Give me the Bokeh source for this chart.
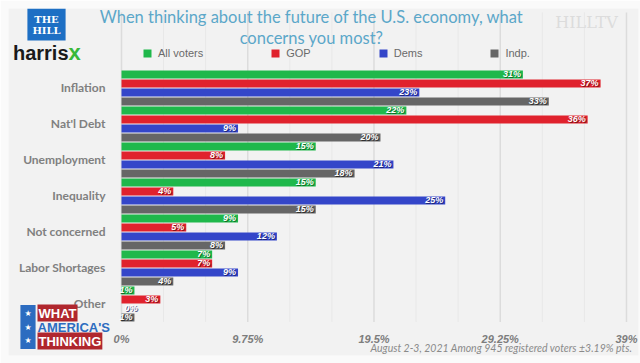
from bokeh.plotting import figure
from bokeh.models import (ColumnDataSource, Range1d, FixedTicker,
                          CustomJSTickFormatter, Legend, LegendItem, Label)
from bokeh.transform import dodge
from bokeh.core.properties import value
from bokeh.embed import file_html
from bokeh.resources import INLINE

# ---------------- data ----------------
categories = ["Inflation", "Nat'l Debt", "Unemployment", "Inequality",
              "Not concerned", "Labor Shortages", "Other"]
all_voters = [31, 22, 15, 15, 9, 7, 1]
gop = [37, 36, 8, 4, 5, 7, 3]
dems = [23, 9, 21, 25, 12, 9, 0]
indp = [33, 20, 18, 15, 8, 4, 1]
series_names = ["All voters", "GOP", "Dems", "Indp."]
series_values = [all_voters, gop, dems, indp]
series_colors = ["#1fb84b", "#e0222d", "#3446c9", "#666666"]
shadow_colors = ["#0b5a22", "#6a0d12", "#141d63", "#222222"]
x_ticks = [0, 9.75, 19.5, 29.25, 39]
title_lines = ["When thinking about the future of the U.S. economy, what",
               "concerns you most?"]
footnote = "August 2-3, 2021 Among 945 registered voters \u00b13.19% pts."

SANS = "'Liberation Sans', Arial, sans-serif"
ROUND = "Lato, 'Open Sans', sans-serif"

ypos = list(range(len(categories)))

W, H = 640, 363
# frame fills the canvas (minus a thin border); axes are pinned with fixed_location
p = figure(width=W, height=H,
           x_range=Range1d(-8.727, 39.927),
           y_range=Range1d(ypos[-1] + 1.4306, ypos[0] - 2.2083),
           output_backend="svg", toolbar_location=None,
           min_border_left=8, min_border_top=8, min_border_bottom=8,
           min_border_right=2)
p.background_fill_color = "#f2f2f2"
p.border_fill_color = "#fafafa"
p.outline_line_color = None
p.xgrid.grid_line_color = None
p.ygrid.grid_line_color = None

# grid lines (bar area only)
minor = []
for a, b in zip(x_ticks[:-1], x_ticks[1:]):
    minor += [a + (b - a) / 3, a + 2 * (b - a) / 3]
top_edge, bottom_edge = ypos[0] - 0.5, ypos[-1] + 0.5
p.segment(x0=minor, x1=minor, y0=top_edge - 1.6, y1=bottom_edge,
          line_color="#e8e8e8", line_width=1)
p.segment(x0=x_ticks, x1=x_ticks, y0=top_edge - 1.6, y1=bottom_edge,
          line_color="#dcdcdc", line_width=1.5)

# x axis
p.xaxis.fixed_location = bottom_edge
p.xaxis.ticker = FixedTicker(ticks=x_ticks)
p.xaxis.formatter = CustomJSTickFormatter(code="return tick + '%';")
p.xaxis.major_label_standoff = 5
p.xaxis.major_label_text_font = SANS
p.xaxis.major_label_text_font_style = "bold italic"
p.xaxis.major_label_text_font_size = "11px"
p.xaxis.major_label_text_color = "#7d7d7d"

# y axis (categories)
p.yaxis.fixed_location = 0
p.yaxis.ticker = FixedTicker(ticks=ypos)
p.yaxis.formatter = CustomJSTickFormatter(args=dict(cats=categories),
                                          code="return cats[Math.round(tick)] || '';")
p.yaxis.major_label_standoff = 10
p.yaxis.major_label_text_font = ROUND
p.yaxis.major_label_text_font_style = "bold"
p.yaxis.major_label_text_font_size = "12px"
p.yaxis.major_label_text_color = "#808080"

for ax in (p.xaxis, p.yaxis):
    ax.axis_line_color = None
    ax.major_tick_line_color = None
    ax.minor_tick_line_color = None

items = []
for k, (name, vals, col, shc) in enumerate(zip(series_names, series_values,
                                               series_colors, shadow_colors)):
    off = -0.375 + 0.25 * k
    src = ColumnDataSource(dict(
        pos=ypos, val=vals,
        label=[f"{v}%" for v in vals],
        align=["right" if v > 0 else "left" for v in vals],
        xo=[-2 if v > 0 else 3 for v in vals],
        xs=[-1 if v > 0 else 4 for v in vals],
    ))
    yy = dodge("pos", off)
    r = p.hbar(y=yy, left=0, right="val", height=0.225, source=src,
               fill_color=col, line_color=None)
    items.append(LegendItem(label=name, renderers=[r]))
    p.text(x="val", y=yy, text="label", source=src, text_align="align",
           x_offset="xs", y_offset=1, text_baseline="middle",
           text_color=shc, text_alpha=0.8, text_font=value(SANS),
           text_font_style="bold italic", text_font_size="9px")
    p.text(x="val", y=yy, text="label", source=src, text_align="align",
           x_offset="xo", text_baseline="middle",
           text_color="white", text_font=value(SANS),
           text_font_style="bold italic", text_font_size="9px")

legend = Legend(items=items, orientation="horizontal", location=(134, 296),
                spacing=67, glyph_width=10, glyph_height=10, label_standoff=6,
                label_height=12, padding=0, margin=0,
                background_fill_alpha=0, border_line_color=None,
                label_text_font=SANS, label_text_font_size="11px",
                label_text_color="#6a6a6a")
p.add_layout(legend)

def lab(x, y, text, **kw):
    p.add_layout(Label(x=x, y=y, x_units="screen", y_units="screen", text=text, **kw))

# title
lab(303, 338.5, title_lines[0], text_align="center", text_baseline="middle",
    text_font=ROUND, text_font_size="16.5px", text_color="#5ba7c9")
lab(303, 317.5, title_lines[1], text_align="center", text_baseline="middle",
    text_font=ROUND, text_font_size="16.5px", text_color="#5ba7c9")

# footnote
lab(624, 8, footnote, text_align="right", text_baseline="middle",
    text_font=ROUND, text_font_style="italic", text_font_size="10.5px",
    text_color="#8a8a8a")

# logos
lab(38, 331, "THE\nHILL", text_align="center", text_baseline="middle",
    text_font="'DejaVu Serif', serif", text_font_style="bold",
    text_font_size="10px", text_color="white", background_fill_color="#1d6fc4",
    padding=5, text_line_height=1.0)
lab(60, 303, "harris", text_align="right", text_baseline="middle",
    text_font=SANS, text_font_style="bold", text_font_size="20px",
    text_color="#1a1a1a")
lab(60, 303, "x", text_align="left", text_baseline="middle",
    text_font=SANS, text_font_style="bold",
    text_font_size="22px", text_color="#38b83a")
lab(578, 333, "HILLTV", text_align="center", text_baseline="middle",
    text_font="'DejaVu Serif', serif", text_font_size="16px",
    text_color="#dcdcdc")

lab(19.5, 28.5, "\u2605\n\u2605\n\u2605", text_align="center", text_baseline="middle",
    text_font="'DejaVu Sans', sans-serif", text_font_size="8px",
    text_color="white", background_fill_color="#2c6cc0", padding=4,
    text_line_height=1.5)
lab(29, 42.5, "WHAT", text_align="left", text_baseline="middle",
    text_font=SANS, text_font_style="bold", text_font_size="13px",
    text_color="white", background_fill_color="#b0272e", padding=1)
lab(29, 28.5, "AMERICA'S", text_align="left", text_baseline="middle",
    text_font=SANS, text_font_style="bold", text_font_size="13px",
    text_color="#2c6cc0")
lab(29, 14.5, "THINKING", text_align="left", text_baseline="middle",
    text_font=SANS, text_font_style="bold", text_font_size="13px",
    text_color="white", background_fill_color="#b0272e", padding=1)

open("out.html", "w").write(file_html(p, INLINE))
